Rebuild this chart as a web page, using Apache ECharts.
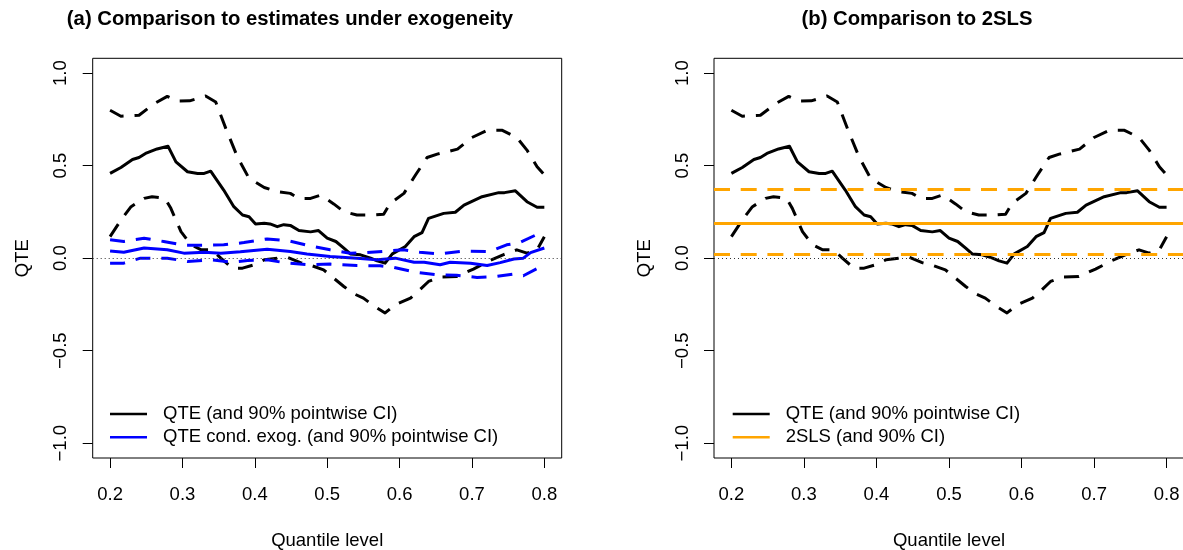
<!DOCTYPE html>
<html>
<head>
<meta charset="utf-8">
<script src="https://cdn.jsdelivr.net/npm/echarts@6/dist/echarts.min.js"></script>
<style>
html,body{margin:0;padding:0;background:#fff;}
#chart{width:1183px;height:550px;}
</style>
</head>
<body>
<div id="chart"></div>
<script>
// ---- data ----
const titleA = '(a) Comparison to estimates under exogeneity';
const titleB = '(b) Comparison to 2SLS';
const xName = 'Quantile level';
const yName = 'QTE';
const xTicks = [0.2, 0.3, 0.4, 0.5, 0.6, 0.7, 0.8];
const yTicks = [-1, -0.5, 0, 0.5, 1];

const qteX = [0.2, 0.215, 0.231, 0.24, 0.249, 0.265, 0.28, 0.291, 0.307, 0.321, 0.33, 0.339, 0.357, 0.371, 0.383, 0.392, 0.401, 0.413, 0.421, 0.431, 0.44, 0.449, 0.461, 0.477, 0.488, 0.5, 0.512, 0.523, 0.532, 0.546, 0.56, 0.569, 0.58, 0.59, 0.608, 0.62, 0.631, 0.64, 0.661, 0.677, 0.689, 0.714, 0.737, 0.745, 0.76, 0.776, 0.79, 0.8];
const qte = [0.458, 0.49, 0.533, 0.544, 0.566, 0.59, 0.605, 0.52, 0.467, 0.458, 0.458, 0.47, 0.368, 0.278, 0.233, 0.224, 0.185, 0.188, 0.185, 0.17, 0.181, 0.177, 0.149, 0.142, 0.149, 0.108, 0.09, 0.054, 0.023, 0.018, 0.0, -0.015, -0.027, 0.023, 0.063, 0.116, 0.138, 0.215, 0.242, 0.248, 0.287, 0.332, 0.354, 0.354, 0.364, 0.305, 0.275, 0.275];

const qteHiX = [0.2, 0.215, 0.24, 0.261, 0.279, 0.293, 0.31, 0.332, 0.346, 0.36, 0.376, 0.392, 0.413, 0.431, 0.449, 0.461, 0.477, 0.491, 0.509, 0.523, 0.541, 0.564, 0.578, 0.587, 0.606, 0.622, 0.638, 0.652, 0.68, 0.7, 0.721, 0.742, 0.762, 0.776, 0.79, 0.8];
const qteHi = [0.799, 0.767, 0.772, 0.835, 0.874, 0.849, 0.85, 0.876, 0.844, 0.7, 0.547, 0.431, 0.382, 0.359, 0.35, 0.323, 0.323, 0.341, 0.293, 0.251, 0.233, 0.233, 0.237, 0.296, 0.35, 0.449, 0.544, 0.562, 0.589, 0.652, 0.691, 0.691, 0.652, 0.584, 0.494, 0.45];

const qteLoX = [0.2, 0.215, 0.229, 0.247, 0.258, 0.276, 0.284, 0.298, 0.312, 0.326, 0.341, 0.353, 0.369, 0.383, 0.399, 0.413, 0.431, 0.445, 0.463, 0.479, 0.495, 0.506, 0.523, 0.535, 0.55, 0.564, 0.58, 0.594, 0.615, 0.628, 0.64, 0.656, 0.679, 0.702, 0.725, 0.743, 0.762, 0.776, 0.79, 0.8];
const qteLo = [0.116, 0.206, 0.278, 0.323, 0.332, 0.323, 0.269, 0.143, 0.072, 0.045, 0.045, 0.0, -0.054, -0.054, -0.036, -0.009, 0.0, 0.005, -0.024, -0.041, -0.063, -0.099, -0.153, -0.189, -0.216, -0.257, -0.296, -0.252, -0.216, -0.171, -0.126, -0.102, -0.099, -0.059, -0.013, 0.018, 0.045, 0.027, 0.045, 0.116];

const exogX = [0.2, 0.219, 0.247, 0.279, 0.302, 0.33, 0.353, 0.38, 0.417, 0.449, 0.472, 0.504, 0.541, 0.569, 0.594, 0.62, 0.634, 0.656, 0.67, 0.698, 0.721, 0.739, 0.758, 0.771, 0.781, 0.8];
const exog = [0.039, 0.032, 0.055, 0.045, 0.027, 0.032, 0.027, 0.034, 0.048, 0.036, 0.022, 0.009, 0.0, -0.009, 0.0, -0.022, -0.022, -0.036, -0.022, -0.027, -0.04, -0.024, -0.005, 0.0, 0.03, 0.055];

const exogHiX = [0.2, 0.219, 0.247, 0.274, 0.302, 0.334, 0.357, 0.385, 0.417, 0.445, 0.472, 0.504, 0.532, 0.555, 0.582, 0.605, 0.628, 0.656, 0.688, 0.725, 0.748, 0.766, 0.8];
const exogHi = [0.099, 0.09, 0.108, 0.09, 0.07, 0.07, 0.072, 0.084, 0.104, 0.095, 0.07, 0.045, 0.027, 0.03, 0.038, 0.045, 0.032, 0.023, 0.038, 0.036, 0.072, 0.084, 0.147];

const exogLoX = [0.2, 0.219, 0.242, 0.279, 0.307, 0.339, 0.367, 0.39, 0.417, 0.445, 0.477, 0.504, 0.541, 0.573, 0.592, 0.624, 0.652, 0.679, 0.707, 0.734, 0.758, 0.771, 0.8];
const exogLo = [-0.027, -0.027, 0.0, 0.0, -0.018, -0.009, -0.022, -0.013, -0.009, -0.027, -0.036, -0.032, -0.04, -0.041, -0.05, -0.077, -0.09, -0.093, -0.104, -0.099, -0.086, -0.095, -0.036];

const tsls = 0.192;
const tslsLo = 0.018;
const tslsHi = 0.368;

const nameQTE = 'QTE (and 90% pointwise CI)';
const nameExog = 'QTE cond. exog. (and 90% pointwise CI)';
const nameTSLS = '2SLS (and 90% CI)';

// ---- chart ----
const FONT = 'Liberation Sans, Arial, Helvetica, sans-serif';
const FS = 18.5;
const DASH = [15, 11];
const pairs = (xs, ys) => xs.map((x, i) => [x, ys[i]]);

function xAxisCfg(gi) {
  return {
    type: 'value', gridIndex: gi, min: 0.176, max: 0.824,
    name: xName, nameLocation: 'middle', nameGap: 73,
    nameTextStyle: {color: '#000', fontSize: FS, fontFamily: FONT},
    axisLine: {show: false, onZero: false},
    axisTick: {show: true, inside: false, length: 10, customValues: xTicks, lineStyle: {color: '#000', width: 1}},
    axisLabel: {show: true, customValues: xTicks, margin: 27, color: '#000', fontSize: FS, fontFamily: FONT,
      formatter: v => v.toFixed(1)},
    splitLine: {show: false}
  };
}
function yAxisCfg(gi) {
  return {
    type: 'value', gridIndex: gi, min: -1.08, max: 1.08,
    name: yName, nameLocation: 'middle', nameGap: 60, nameRotate: 90,
    nameTextStyle: {color: '#000', fontSize: FS, fontFamily: FONT},
    axisLine: {show: false, onZero: false},
    axisTick: {show: true, inside: false, length: 10, customValues: yTicks, lineStyle: {color: '#000', width: 1}},
    axisLabel: {show: true, customValues: yTicks, rotate: 90, margin: 22, color: '#000', fontSize: FS, fontFamily: FONT,
      formatter: v => (v < 0 ? '\u2212' : '') + Math.abs(v).toFixed(1)},
    splitLine: {show: false}
  };
}
function lineSeries(gi, name, xs, ys, color, dashed) {
  return {
    type: 'line', name: name, xAxisIndex: gi, yAxisIndex: gi,
    data: pairs(xs, ys), symbol: 'none', showSymbol: false, silent: true,
    lineStyle: {color: color, width: 3, type: dashed ? DASH : 'solid', cap: 'butt', join: 'round'},
    itemStyle: {color: color}
  };
}
const zeroLine = {
  silent: true, symbol: ['none', 'none'], label: {show: false},
  lineStyle: {color: '#333', width: 1, type: [1, 3]},
  data: [{yAxis: 0}]
};

const series = [
  // left panel
  Object.assign(lineSeries(0, 'zero-a', [], [], '#000', false), {markLine: zeroLine}),
  lineSeries(0, nameQTE, qteX, qte, '#000', false),
  lineSeries(0, 'qte-hi-a', qteHiX, qteHi, '#000', true),
  lineSeries(0, 'qte-lo-a', qteLoX, qteLo, '#000', true),
  lineSeries(0, nameExog, exogX, exog, '#0000FF', false),
  lineSeries(0, 'exog-hi', exogHiX, exogHi, '#0000FF', true),
  lineSeries(0, 'exog-lo', exogLoX, exogLo, '#0000FF', true),
  // right panel
  Object.assign(lineSeries(1, 'zero-b', [], [], '#000', false), {markLine: zeroLine}),
  lineSeries(1, nameQTE, qteX, qte, '#000', false),
  lineSeries(1, 'qte-hi-b', qteHiX, qteHi, '#000', true),
  lineSeries(1, 'qte-lo-b', qteLoX, qteLo, '#000', true),
  Object.assign(lineSeries(1, nameTSLS, [], [], '#FFA500', false), {
    markLine: {
      silent: true, symbol: ['none', 'none'], label: {show: false},
      data: [
        {yAxis: tsls, lineStyle: {color: '#FFA500', width: 3, type: 'solid'}},
        {yAxis: tslsHi, lineStyle: {color: '#FFA500', width: 3, type: [16, 10.7], cap: 'butt'}},
        {yAxis: tslsLo, lineStyle: {color: '#FFA500', width: 3, type: [16, 10.7], cap: 'butt'}}
      ]
    }
  })
];

const legendCommon = {
  orient: 'vertical', itemWidth: 37, itemHeight: 14, itemGap: 3.3, padding: 0,
  icon: 'path://M0,5.75 L37,5.75 L37,8.25 L0,8.25 Z',
  selectedMode: false,
  textStyle: {color: '#000', fontSize: FS, fontFamily: FONT, lineHeight: 20, padding: [0, 0, 0, 11]}
};

const option = {
  animation: false,
  backgroundColor: '#fff',
  title: [
    {text: titleA, left: 285, top: 4, textAlign: 'center',
      textStyle: {fontSize: 20.3, fontWeight: 'bold', color: '#000', fontFamily: FONT}},
    {text: titleB, left: 912, top: 4, textAlign: 'center',
      textStyle: {fontSize: 20.3, fontWeight: 'bold', color: '#000', fontFamily: FONT}}
  ],
  legend: [
    Object.assign({}, legendCommon, {left: 110, top: 404, data: [
      {name: nameQTE, itemStyle: {color: '#000'}},
      {name: nameExog, itemStyle: {color: '#0000FF'}}
    ]}),
    Object.assign({}, legendCommon, {left: 732.7, top: 404, data: [
      {name: nameQTE, itemStyle: {color: '#000'}},
      {name: nameTSLS, itemStyle: {color: '#FFA500'}}
    ]})
  ],
  grid: [
    {left: 92.7, top: 58.3, width: 469, height: 399.7, show: true, borderColor: '#000', borderWidth: 1,
      backgroundColor: 'transparent', containLabel: false, outerBoundsMode: 'none'},
    {left: 714, top: 58.3, width: 470, height: 399.7, show: true, borderColor: '#000', borderWidth: 1,
      backgroundColor: 'transparent', containLabel: false, outerBoundsMode: 'none'}
  ],
  xAxis: [xAxisCfg(0), xAxisCfg(1)],
  yAxis: [yAxisCfg(0), yAxisCfg(1)],
  series: series
};

const chart = echarts.init(document.getElementById('chart'), null, {renderer: 'canvas'});
chart.setOption(option);
</script>
</body>
</html>
